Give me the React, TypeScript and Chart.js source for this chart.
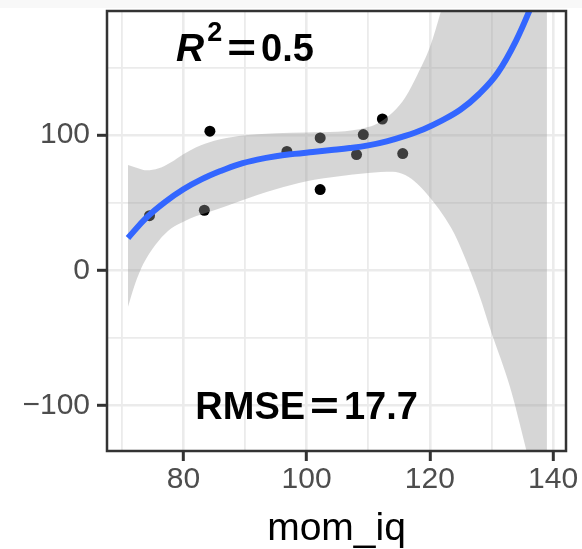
import React, { useEffect, useRef } from 'react';
import { Chart, registerables } from 'chart.js';

Chart.register(...registerables);

// Observed data points (mom_iq vs score)
const pointX = [74.5, 83.4, 84.3, 96.8, 102.2, 102.2, 108.1, 109.2, 112.3, 115.6];
const pointY = [40.5, 44.5, 103, 88, 98, 59.8, 85.7, 100.5, 112, 86.4];

// Fitted smooth curve
const fitX = [71, 74, 77, 80, 83, 86, 89, 92, 95, 98, 101, 104, 107, 110, 113, 116, 119, 122, 125, 128, 131, 134, 137];
const fitY = [24, 39, 50.5, 60, 67.5, 73.5, 78.5, 82, 84.5, 86.2, 87.6, 89, 90.5, 92.5, 95.5, 99.5, 104.5, 111, 119, 130.5, 146, 170, 201];

// Confidence band
const bandX = [71, 72, 73, 74, 76, 78, 80, 82, 85, 89, 95, 100, 105, 110, 112, 114, 116, 118, 120, 122, 124, 126, 128, 130, 133, 135.5, 139];
const bandUpper = [78, 76.5, 75, 74, 75.5, 80, 86, 91, 96, 99.5, 101.5, 102, 102.5, 106, 110, 117, 128, 145, 165, 195, 230, 270, 320, 370, 450, 520, 640];
const bandLower = [-27, -12, 0, 9, 22, 31, 36, 40, 44.5, 51, 60, 66, 69.5, 72, 72.8, 73, 70.5, 64, 54, 42, 27, 6, -18, -46, -86, -130, -195];

// Axes
const xTicks = [70, 80, 90, 100, 110, 120, 130, 140];
const xLabelTicks = [80, 100, 120, 140];
const yTicks = [-100, -50, 0, 50, 100, 150];
const yLabelTicks = [-100, 0, 100];
const xMin = 67.6;
const xMax = 142.1;
const yMin = -133.6;
const yMax = 191.9;
const xTitle = 'mom_iq';

// Annotations
const r2Text = { base: 'R', sup: '2', value: '0.5', x: 90, y: 165 };
const rmseText = { base: 'RMSE', value: '17.7', x: 100, y: -100 };

const FONT = "'Liberation Sans', Arial, sans-serif";

type Part = { t: string; font: string; dy?: number; sx?: number; gap?: number };

function drawMath(ctx: CanvasRenderingContext2D, cx: number, cy: number, parts: Part[], capH: number) {
  let total = 0;
  const widths: number[] = [];
  parts.forEach((p) => {
    ctx.font = p.font;
    const w = ctx.measureText(p.t).width * (p.sx || 1);
    widths.push(w);
    total += (p.gap || 0) + w;
  });
  let x = cx - total / 2;
  const base = cy + capH / 2;
  parts.forEach((p, i) => {
    x += p.gap || 0;
    ctx.save();
    ctx.font = p.font;
    ctx.fillStyle = '#000';
    ctx.textBaseline = 'alphabetic';
    ctx.textAlign = 'left';
    ctx.translate(x, base + (p.dy || 0));
    ctx.scale(p.sx || 1, 1);
    ctx.fillText(p.t, 0, 0);
    ctx.restore();
    x += widths[i];
  });
}

const panelPlugin = {
  id: 'panelDecor',
  beforeDraw(chart: any) {
    const { ctx, width } = chart;
    ctx.save();
    ctx.fillStyle = '#f8f8f8';
    ctx.fillRect(0, 0, width, 8);
    ctx.restore();
  },
  afterDatasetsDraw(chart: any) {
    const { ctx } = chart;
    const xs = chart.scales.x;
    const ys = chart.scales.y;
    const size = 38;
    const capH = size * 0.716;
    const main = `bold ${size}px ${FONT}`;
    drawMath(
      ctx,
      xs.getPixelForValue(r2Text.x),
      ys.getPixelForValue(r2Text.y),
      [
        { t: r2Text.base, font: `italic bold ${size + 1}px ${FONT}` },
        { t: r2Text.sup, font: `bold 27px ${FONT}`, dy: -20, gap: 3 },
        { t: '=', font: main, sx: 1.3, gap: 5 },
        { t: r2Text.value, font: main, gap: 5 },
      ],
      capH
    );
    drawMath(
      ctx,
      xs.getPixelForValue(rmseText.x),
      ys.getPixelForValue(rmseText.y),
      [
        { t: rmseText.base, font: main },
        { t: '=', font: main, sx: 1.3, gap: 5 },
        { t: rmseText.value, font: main, gap: 5 },
      ],
      capH
    );
  },
  afterDraw(chart: any) {
    const { ctx, chartArea } = chart;
    ctx.save();
    ctx.strokeStyle = '#333333';
    ctx.lineWidth = 2.5;
    ctx.strokeRect(chartArea.left, chartArea.top, chartArea.right - chartArea.left, chartArea.bottom - chartArea.top);
    ctx.restore();
  },
};

export default function App() {
  const ref = useRef<HTMLCanvasElement | null>(null);

  useEffect(() => {
    if (!ref.current) return;
    const toXY = (xs: number[], ys: number[]) => xs.map((x, i) => ({ x, y: ys[i] }));
    const chart = new Chart(ref.current, {
      type: 'line',
      data: {
        datasets: [
          {
            label: 'fit',
            data: toXY(fitX, fitY),
            borderColor: '#3366FF',
            borderWidth: 6,
            pointRadius: 0,
            fill: false,
            tension: 0.4,
            clip: 0,
          },
          {
            label: 'upper',
            data: toXY(bandX, bandUpper),
            borderColor: 'transparent',
            borderWidth: 0,
            pointRadius: 0,
            backgroundColor: 'rgba(153,153,153,0.4)',
            fill: '+1',
            cubicInterpolationMode: 'monotone',
            clip: 0,
          },
          {
            label: 'lower',
            data: toXY(bandX, bandLower),
            borderColor: 'transparent',
            borderWidth: 0,
            pointRadius: 0,
            fill: false,
            cubicInterpolationMode: 'monotone',
            clip: 0,
          },
          {
            label: 'points',
            data: toXY(pointX, pointY),
            showLine: false,
            pointRadius: 5.5,
            pointBackgroundColor: '#000000',
            pointBorderWidth: 0,
            borderColor: 'transparent',
            fill: false,
          },
        ],
      } as any,
      options: {
        animation: false,
        responsive: false,
        devicePixelRatio: 1,
        layout: { padding: { left: 0, top: 11, right: 16, bottom: 0 } },
        plugins: { legend: { display: false }, tooltip: { enabled: false } },
        events: [],
        scales: {
          x: {
            type: 'linear',
            min: xMin,
            max: xMax,
            afterBuildTicks: (s: any) => {
              s.ticks = xTicks.map((v) => ({ value: v }));
            },
            afterFit: (s: any) => {
              s.height = 98;
              s.paddingLeft = 0;
              s.paddingRight = 0;
            },
            border: { display: false },
            grid: {
              color: '#EBEBEB',
              lineWidth: (c: any) => (c.tick && xLabelTicks.includes(c.tick.value) ? 2.6 : 1.8),
              tickColor: (c: any) => (c.tick && xLabelTicks.includes(c.tick.value) ? '#333333' : 'rgba(0,0,0,0)'),
              tickWidth: 3,
              tickLength: 10,
              drawTicks: true,
            },
            ticks: {
              autoSkip: false,
              maxRotation: 0,
              minRotation: 0,
              padding: 1,
              color: '#4D4D4D',
              font: { size: 30, family: FONT },
              callback: (v: any) => (xLabelTicks.includes(Number(v)) ? String(v) : ''),
            },
            title: {
              display: true,
              text: xTitle,
              color: '#000000',
              font: { size: 39, family: FONT, lineHeight: 1 },
              padding: { top: 0, bottom: 0 },
            },
          },
          y: {
            type: 'linear',
            min: yMin,
            max: yMax,
            afterBuildTicks: (s: any) => {
              s.ticks = yTicks.map((v) => ({ value: v }));
            },
            afterFit: (s: any) => {
              s.width = 107;
              s.paddingTop = 0;
              s.paddingBottom = 0;
            },
            border: { display: false },
            grid: {
              color: '#EBEBEB',
              lineWidth: (c: any) => (c.tick && yLabelTicks.includes(c.tick.value) ? 2.6 : 1.8),
              tickColor: (c: any) => (c.tick && yLabelTicks.includes(c.tick.value) ? '#333333' : 'rgba(0,0,0,0)'),
              tickWidth: 3,
              tickLength: 10,
              drawTicks: true,
            },
            ticks: {
              autoSkip: false,
              padding: 7,
              color: '#4D4D4D',
              font: { size: 30, family: FONT },
              callback: (v: any) => {
                const n = Number(v);
                if (!yLabelTicks.includes(n)) return '';
                return n < 0 ? '\u2212' + Math.abs(n) : String(n);
              },
            },
          },
        },
      } as any,
      plugins: [panelPlugin],
    });
    return () => chart.destroy();
  }, []);

  return (
    <div style={{ position: 'fixed', left: 0, top: 0, width: 582, height: 549, background: '#ffffff' }}>
      <canvas ref={ref} width={582} height={549} style={{ display: 'block' }} />
    </div>
  );
}
